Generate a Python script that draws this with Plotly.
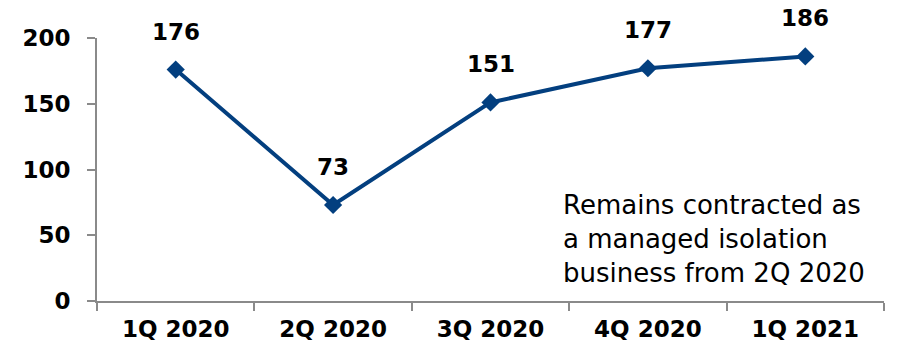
import plotly.graph_objects as go

categories = ["1Q 2020", "2Q 2020", "3Q 2020", "4Q 2020", "1Q 2021"]
values = [176, 73, 151, 177, 186]
y_ticks = [0, 50, 100, 150, 200]
note_lines = ["Remains contracted as", "a managed isolation", "business from 2Q 2020"]

LINE = "#033f7f"
AXIS = "#8a8a8a"
BOLD = dict(family="DejaVu Sans", size=23, color="#000000", weight="bold")

fig = go.Figure()
fig.add_trace(go.Scatter(
    x=categories, y=values, mode="lines+markers",
    line=dict(color=LINE, width=4),
    marker=dict(symbol="diamond", size=14, color=LINE),
    cliponaxis=False, showlegend=False, hoverinfo="skip",
))

for c, v in zip(categories, values):
    fig.add_annotation(x=c, y=v, text=str(v), showarrow=False,
                       yshift=38, yanchor="middle", font=BOLD)

fig.add_annotation(
    xref="paper", yref="paper", x=0.590, y=0.43,
    xanchor="left", yanchor="top", align="left", showarrow=False,
    text="<br>".join(note_lines),
    font=dict(family="DejaVu Sans", size=26, color="#000000"),
)

fig.update_xaxes(
    type="category", range=[-0.5, 4.5], tickson="boundaries",
    showline=True, linecolor=AXIS, linewidth=2,
    ticks="outside", ticklen=8, tickwidth=2, tickcolor=AXIS,
    ticklabelstandoff=6,
    showgrid=False, zeroline=False, tickfont=BOLD,
)
fig.update_yaxes(
    range=[0, 200], tickvals=y_ticks,
    showline=True, linecolor=AXIS, linewidth=2,
    ticks="outside", ticklen=8, tickwidth=2, tickcolor=AXIS,
    ticklabelstandoff=12,
    showgrid=False, zeroline=False, tickfont=BOLD,
)

fig.update_layout(
    width=897, height=354,
    margin=dict(l=97, r=13, t=38, b=51),
    paper_bgcolor="white", plot_bgcolor="white",
)

fig.write_html("out.html")
